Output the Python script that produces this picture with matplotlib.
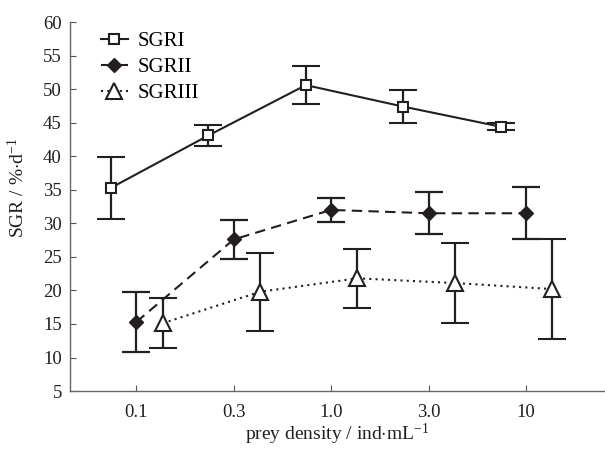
import numpy as np
import matplotlib
matplotlib.use('Agg')
import matplotlib.pyplot as plt

plt.rcParams['font.family'] = ['Liberation Serif', 'DejaVu Serif']
plt.rcParams['mathtext.fontset'] = 'custom'
plt.rcParams['mathtext.rm'] = 'Liberation Serif'
plt.rcParams['mathtext.it'] = 'Liberation Serif:italic'

ink = '#231f20'

densities = ['0.1', '0.3', '1.0', '3.0', '10']

sgr1 = [35.3, 43.1, 50.6, 47.4, 44.4]
sgr1_err = [4.65, 1.55, 2.8, 2.4, 0.5]
sgr2 = [15.3, 27.6, 32.0, 31.5, 31.5]
sgr2_err = [4.5, 2.85, 1.8, 3.1, 3.85]
sgr3 = [15.1, 19.8, 21.8, 21.1, 20.2]
sgr3_err = [3.7, 5.8, 4.4, 6.0, 7.5]

x = np.arange(1, len(densities) + 1)

fig = plt.figure(figsize=(6.05, 4.5), dpi=100)
ax = fig.add_axes([0.116, 0.131, 0.882, 0.82])

common = dict(color=ink, lw=1.5, capsize=10, capthick=1.6, elinewidth=1.6)
e1 = ax.errorbar(x - 0.26, sgr1, yerr=sgr1_err, marker='s', ms=7, mfc='white',
                 mec=ink, mew=1.5, ls='-', label='SGRI', **common)
e2 = ax.errorbar(x, sgr2, yerr=sgr2_err, marker='D', ms=7, mfc=ink,
                 mec=ink, ls=(0, (5, 3)), label='SGRII', **common)
e3 = ax.errorbar(x + 0.27, sgr3, yerr=sgr3_err, marker='^', ms=11, mfc='white',
                 mec=ink, mew=1.5, ls=(0, (1, 2)), label='SGRIII', **common)

ax.set_xlim(0.32, 5.8)
ax.set_ylim(5, 60)
ax.set_yticks(np.arange(5, 61, 5))
ax.set_xticks(x)
ax.set_xticklabels(densities)
ax.tick_params(direction='in', length=4, color='#555555', labelsize=13.5,
               labelcolor=ink)
ax.tick_params(axis='x', pad=9)
ax.tick_params(axis='y', pad=6)
for s in ['top', 'right']:
    ax.spines[s].set_visible(False)
for s in ['left', 'bottom']:
    ax.spines[s].set_color('#666666')
    ax.spines[s].set_linewidth(1.0)

ax.set_xlabel('prey density / ind$\\cdot$mL$^{-1}$', fontsize=14, color=ink,
              labelpad=1)
ax.set_ylabel('SGR / %$\\cdot$d$^{-1}$', fontsize=14, color=ink)
ax.yaxis.set_label_coords(-0.078, 0.55)

handles = [e1[0], e2[0], e3[0]]
leg = ax.legend(handles, ['SGRI', 'SGRII', 'SGRIII'], loc='upper left',
                bbox_to_anchor=(0.022, 1.025), frameon=False,
                fontsize=15, handlelength=1.3, labelspacing=0.3,
                handletextpad=0.45)

fig.savefig('out.png', dpi=100)
